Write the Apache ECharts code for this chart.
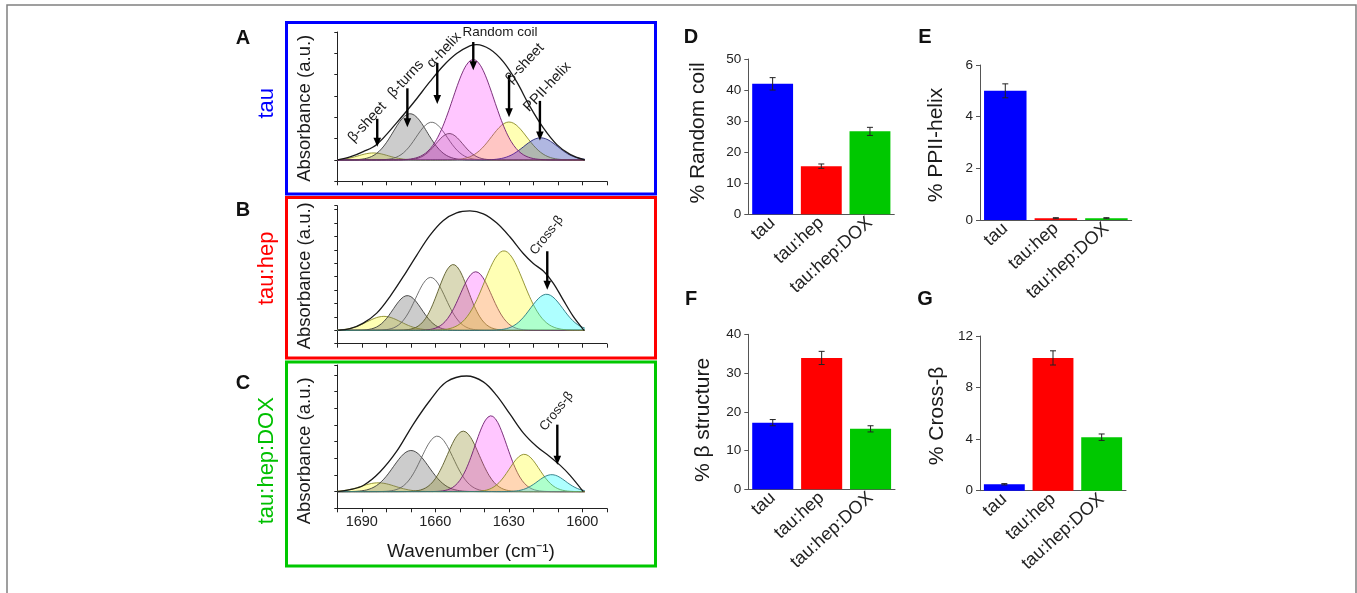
<!DOCTYPE html>
<html>
<head>
<meta charset="utf-8">
<script src="https://cdn.jsdelivr.net/npm/echarts@6/dist/echarts.min.js"></script>
<style>
html, body { margin: 0; padding: 0; background: #fff; }
#main { width: 1357px; height: 593px; }
</style>
</head>
<body>
<div id="main"></div>
<script>
// ---------- D-G : % secondary structure (bars + error bars) ----------
var samples = ['tau', 'tau:hep', 'tau:hep:DOX'];
var randomCoil = [42.0, 15.5, 26.7];
var randomCoilErr = [2.0, 0.7, 1.3];
var ppiiHelix = [5.0, 0.07, 0.07];
var ppiiHelixErr = [0.27, 0.02, 0.02];
var betaStructure = [17.2, 33.9, 15.6];
var betaStructureErr = [0.8, 1.7, 0.8];
var crossBeta = [0.5, 10.3, 4.15];
var crossBetaErr = [0.05, 0.55, 0.25];

// ---------- A-C : FTIR amide I region ----------
var wnTicks = [1690, 1660, 1630, 1600];

var envA_wn  = [1700, 1694.8, 1689.4, 1683.9, 1675.8, 1669, 1662.2, 1656.7, 1651.3, 1645.9, 1643.1, 1637.7, 1632.2, 1626.8, 1621.4, 1615.9, 1610.5, 1605, 1599];
var envA_abs = [0, 0.14, 0.39, 0.73, 1.74, 2.67, 3.67, 4.42, 4.99, 5.35, 5.41, 5.19, 4.60, 3.67, 2.51, 1.50, 0.73, 0.26, 0];
var envB_wn  = [1699.6, 1694.8, 1689.4, 1683.9, 1678.5, 1673.1, 1667.6, 1662.2, 1656.7, 1651.3, 1645.9, 1640.4, 1635, 1629.5, 1624.1, 1620, 1615.9, 1611.8, 1607.8, 1603.7, 1599.3];
var envB_abs = [0, 0.12, 0.54, 1.28, 2.52, 4.0, 5.6, 7.09, 8.2, 8.77, 8.91, 8.69, 8.02, 6.96, 5.73, 4.99, 4.42, 3.51, 2.27, 1.04, 0];
var envC_wn  = [1700, 1694.8, 1689.4, 1682.6, 1675.8, 1669, 1662.2, 1655.4, 1647.2, 1640.4, 1635, 1629.5, 1624.1, 1618.6, 1613.2, 1609.1, 1605, 1599.6];
var envC_abs = [0, 0.12, 0.37, 1.18, 2.41, 4.04, 5.47, 6.59, 6.94, 6.59, 5.78, 4.65, 3.53, 2.71, 2.1, 1.59, 0.98, 0];

// fitted bands: [centre (cm-1), height (a.u.), width sigma (cm-1)]
// listed in drawing order
var bandsA = [[1685.3, 0.33, 6.0], [1670.3, 2.17, 6.9], [1661.5, 1.77, 6.3], [1629.9, 1.78, 7.2], [1617.0, 1.04, 6.9], [1644.5, 4.71, 8.4], [1654.3, 1.24, 5.5]];
var bandsB = [[1681.0, 1.04, 6.9], [1671.4, 2.59, 5.8], [1661.9, 3.95, 6.1], [1652.7, 4.91, 6.1], [1643.5, 4.37, 6.4], [1632.0, 5.93, 8.0], [1614.6, 2.69, 6.6]];
var bandsC = [[1683.3, 0.53, 6.9], [1669.9, 2.47, 7.2], [1659.2, 3.33, 6.5], [1648.6, 3.63, 6.5], [1637.3, 4.55, 6.5], [1623.7, 2.24, 6.1], [1612.5, 1.02, 5.7]];

// annotations: [text, label wn, label abs, arrow wn, arrow top abs, arrow tip abs]
var notesA = [
  ['β-sheet', 1687.8, 1.77, 1683.7, 1.93, 0.62],
  ['β-turns', 1672.0, 3.80, 1671.4, 3.36, 1.53],
  ['α-helix', 1656.4, 5.15, 1659.2, 4.55, 2.63],
  ['β-sheet', 1623.4, 4.53, 1629.9, 3.98, 2.0],
  ['PPII-helix', 1614.3, 3.43, 1617.3, 2.77, 0.91]
];
var noteCoil = ['Random coil', 1633.6, 5.97, 1644.5, 5.53, 4.21];
var notesB = [['Cross-β', 1614.5, 7.09, 1614.3, 5.9, 3.03]];
var notesC = [['Cross-β', 1610.5, 4.82, 1610.2, 4.02, 1.61]];

// ---------- styles ----------
var font = 'Liberation Sans, Arial, sans-serif';
var barColors = ['#0000ff', '#ff0000', '#00c800'];
var bandStyle = {
  yellow:  ['rgba(255,255,0,0.42)', 'rgba(140,140,40,0.9)'],
  gray:    ['rgba(110,110,110,0.5)', 'rgba(60,60,60,0.9)'],
  white:   ['rgba(255,255,255,0)', 'rgba(100,100,100,0.9)'],
  mauve:   ['rgba(160,50,140,0.3)', 'rgba(110,50,100,0.85)'],
  magenta: ['rgba(255,0,255,0.32)', 'rgba(110,30,110,0.9)'],
  blue:    ['rgba(30,50,170,0.5)', 'rgba(40,40,120,0.9)'],
  olive:   ['rgba(140,135,30,0.45)', 'rgba(90,90,40,0.9)'],
  cyan:    ['rgba(0,255,255,0.45)', 'rgba(40,120,130,0.9)']
};
var kindsA = ['yellow', 'gray', 'white', 'yellow', 'blue', 'magenta', 'mauve'];
var kindsB = ['yellow', 'gray', 'white', 'olive', 'magenta', 'yellow', 'cyan'];
var kindsC = ['yellow', 'gray', 'white', 'olive', 'magenta', 'yellow', 'cyan'];

var chart = echarts.init(document.getElementById('main'));

// gaussian band profile from the read centre/height/width
function bandCurve(b) {
  var pts = [];
  for (var wn = 1700; wn >= 1599; wn -= 0.5) {
    var d = wn - b[0];
    pts.push([wn, b[1] * Math.exp(-d * d / (2 * b[2] * b[2]))]);
  }
  return pts;
}

function zip(a, b) {
  return a.map(function (v, i) { return [v, b[i]]; });
}

var series = [];

function addSpectrum(g, bands, kinds, envWn, envAbs) {
  bands.forEach(function (b, i) {
    var st = bandStyle[kinds[i]];
    series.push({
      type: 'line', xAxisIndex: g, yAxisIndex: g,
      data: bandCurve(b), showSymbol: false, silent: true,
      lineStyle: { color: st[1], width: 1 },
      areaStyle: { color: st[0], origin: 'auto' },
      z: 2 + i
    });
  });
  series.push({
    type: 'line', xAxisIndex: g, yAxisIndex: g,
    data: zip(envWn, envAbs), smooth: 0.35, showSymbol: false, silent: true,
    lineStyle: { color: '#1a1a1a', width: 1.3 },
    z: 20
  });
}
addSpectrum(0, bandsA, kindsA, envA_wn, envA_abs);
addSpectrum(1, bandsB, kindsB, envB_wn, envB_abs);
addSpectrum(2, bandsC, kindsC, envC_wn, envC_abs);

function addBars(g, vals, errs) {
  series.push({
    type: 'bar', xAxisIndex: g, yAxisIndex: g, barCategoryGap: '16%',
    data: vals.map(function (v, i) {
      return { value: v, itemStyle: { color: barColors[i] } };
    })
  });
  series.push({
    type: 'custom', xAxisIndex: g, yAxisIndex: g, z: 10,
    data: vals.map(function (v, i) { return [i, v - errs[i], v + errs[i]]; }),
    renderItem: function (params, api) {
      var lo = api.coord([api.value(0), api.value(1)]);
      var hi = api.coord([api.value(0), api.value(2)]);
      var w = 3;
      var st = { stroke: '#222', lineWidth: 1 };
      return {
        type: 'group', children: [
          { type: 'line', shape: { x1: hi[0], y1: hi[1], x2: lo[0], y2: lo[1] }, style: st },
          { type: 'line', shape: { x1: hi[0] - w, y1: hi[1], x2: hi[0] + w, y2: hi[1] }, style: st },
          { type: 'line', shape: { x1: lo[0] - w, y1: lo[1], x2: lo[0] + w, y2: lo[1] }, style: st }
        ]
      };
    }
  });
}
addBars(3, randomCoil, randomCoilErr);
addBars(4, ppiiHelix, ppiiHelixErr);
addBars(5, betaStructure, betaStructureErr);
addBars(6, crossBeta, crossBetaErr);

function specX(g, showLabels) {
  return {
    type: 'value', gridIndex: g, min: 1590, max: 1700, interval: 10, inverse: true,
    axisLine: { onZero: false, lineStyle: { color: '#222', width: 1 } },
    axisTick: { length: 4, lineStyle: { color: '#222' } },
    splitLine: { show: false },
    axisLabel: {
      show: showLabels, margin: 6, fontSize: 14.5, color: '#222', fontFamily: font,
      formatter: function (v) { return wnTicks.indexOf(v) >= 0 ? String(v) : ''; }
    }
  };
}
function specY(g, max) {
  return {
    type: 'value', gridIndex: g, min: -1, max: max, interval: 1,
    axisLine: { show: true, onZero: false, lineStyle: { color: '#222', width: 1 } },
    axisTick: { show: true, length: 3, lineStyle: { color: '#222' } },
    axisLabel: { show: false }, splitLine: { show: false }
  };
}
function barX(g) {
  return {
    type: 'category', gridIndex: g, data: samples,
    axisLine: { lineStyle: { color: '#555', width: 1 } },
    axisTick: { alignWithLabel: true, length: 4, lineStyle: { color: '#555' } },
    axisLabel: { rotate: 42, fontSize: 18, color: '#222', fontFamily: font, margin: 6, interval: 0 }
  };
}
function barY(g, max, step) {
  return {
    type: 'value', gridIndex: g, min: 0, max: max, interval: step,
    axisLine: { show: true, lineStyle: { color: '#555', width: 1 } },
    axisTick: { show: true, length: 4, lineStyle: { color: '#555' } },
    axisLabel: { fontSize: 13.5, color: '#222', fontFamily: font, margin: 7 },
    splitLine: { show: false }
  };
}

chart.setOption({
  animation: false,
  backgroundColor: '#fff',
  grid: [
    { left: 337.3, top: 32, width: 269.5, height: 149.3 },
    { left: 337.3, top: 205.7, width: 269.5, height: 138 },
    { left: 337.3, top: 365, width: 269.5, height: 143.3 },
    { left: 748.3, top: 59, width: 146, height: 155.3 },
    { left: 980, top: 65, width: 151.7, height: 155 },
    { left: 748.3, top: 334.3, width: 146.7, height: 155 },
    { left: 980, top: 336, width: 146, height: 154.7 }
  ],
  xAxis: [specX(0, false), specX(1, false), specX(2, true), barX(3), barX(4), barX(5), barX(6)],
  yAxis: [specY(0, 6), specY(1, 9.3), specY(2, 7.6), barY(3, 50, 10), barY(4, 6, 2), barY(5, 40, 10), barY(6, 12, 4)],
  series: series
});

// ---------- texts, frames and arrows ----------
var gfx = [];
function txt(s, x, y, size, color, rot, weight) {
  gfx.push({
    type: 'text', x: x, y: y, rotation: rot || 0, z: 50,
    style: { text: s, fill: color || '#111', font: (weight || 'normal') + ' ' + size + 'px ' + font, align: 'center', verticalAlign: 'middle' }
  });
}
function box(x1, y1, x2, y2, color, w) {
  gfx.push({ type: 'rect', z: 40, shape: { x: x1, y: y1, width: x2 - x1, height: y2 - y1 }, style: { fill: null, stroke: color, lineWidth: w } });
}

box(7, 5, 1356, 610, '#808080', 1.5);
box(286.5, 22.5, 655.5, 194, '#0000ff', 3);
box(286.5, 197.5, 655.5, 358, '#ff0000', 3);
box(286.5, 362, 655.5, 566, '#00c800', 3);

txt('A', 243, 38, 20, '#111', 0, 'bold');
txt('B', 243, 210, 20, '#111', 0, 'bold');
txt('C', 243, 383, 20, '#111', 0, 'bold');
txt('D', 691, 37, 20, '#111', 0, 'bold');
txt('E', 925, 37, 20, '#111', 0, 'bold');
txt('F', 691, 299, 20, '#111', 0, 'bold');
txt('G', 925, 299, 20, '#111', 0, 'bold');

txt('tau', 266.7, 103.3, 22, '#0000ff', Math.PI / 2);
txt('tau:hep', 266.7, 268.3, 22, '#ff0000', Math.PI / 2);
txt('tau:hep:DOX', 266.7, 460.7, 22, '#00c000', Math.PI / 2);

txt('Absorbance (a.u.)', 305, 108.3, 18.5, '#1a1a1a', Math.PI / 2);
txt('Absorbance (a.u.)', 305, 275.8, 18.5, '#1a1a1a', Math.PI / 2);
txt('Absorbance (a.u.)', 305, 450.8, 18.5, '#1a1a1a', Math.PI / 2);
txt('Wavenumber (cm⁻¹)', 471, 552, 19, '#1a1a1a');

txt('% Random coil', 698, 133, 21, '#1a1a1a', Math.PI / 2);
txt('% PPII-helix', 936, 145, 21, '#1a1a1a', Math.PI / 2);
txt('% β structure', 703, 420, 21, '#1a1a1a', Math.PI / 2);
txt('% Cross-β', 937, 416, 21, '#1a1a1a', Math.PI / 2);

function note(g, n, size, rot) {
  var lp = chart.convertToPixel({ gridIndex: g }, [n[1], n[2]]);
  var top = chart.convertToPixel({ gridIndex: g }, [n[3], n[4]]);
  var tip = chart.convertToPixel({ gridIndex: g }, [n[3], n[5]]);
  txt(n[0], lp[0], lp[1], size, '#1a1a1a', rot);
  var head = 9;
  gfx.push({ type: 'line', z: 45, shape: { x1: top[0], y1: top[1], x2: tip[0], y2: tip[1] - head + 1 }, style: { stroke: '#000', lineWidth: 2.4 } });
  gfx.push({ type: 'polygon', z: 45, shape: { points: [[tip[0] - 3.8, tip[1] - head], [tip[0] + 3.8, tip[1] - head], [tip[0], tip[1]]] }, style: { fill: '#000' } });
}
notesA.forEach(function (n) { note(0, n, 14.5, 47 * Math.PI / 180); });
note(0, noteCoil, 13.5, 0);
notesB.forEach(function (n) { note(1, n, 13, 52 * Math.PI / 180); });
notesC.forEach(function (n) { note(2, n, 13, 52 * Math.PI / 180); });

chart.setOption({ graphic: gfx });
</script>
</body>
</html>
